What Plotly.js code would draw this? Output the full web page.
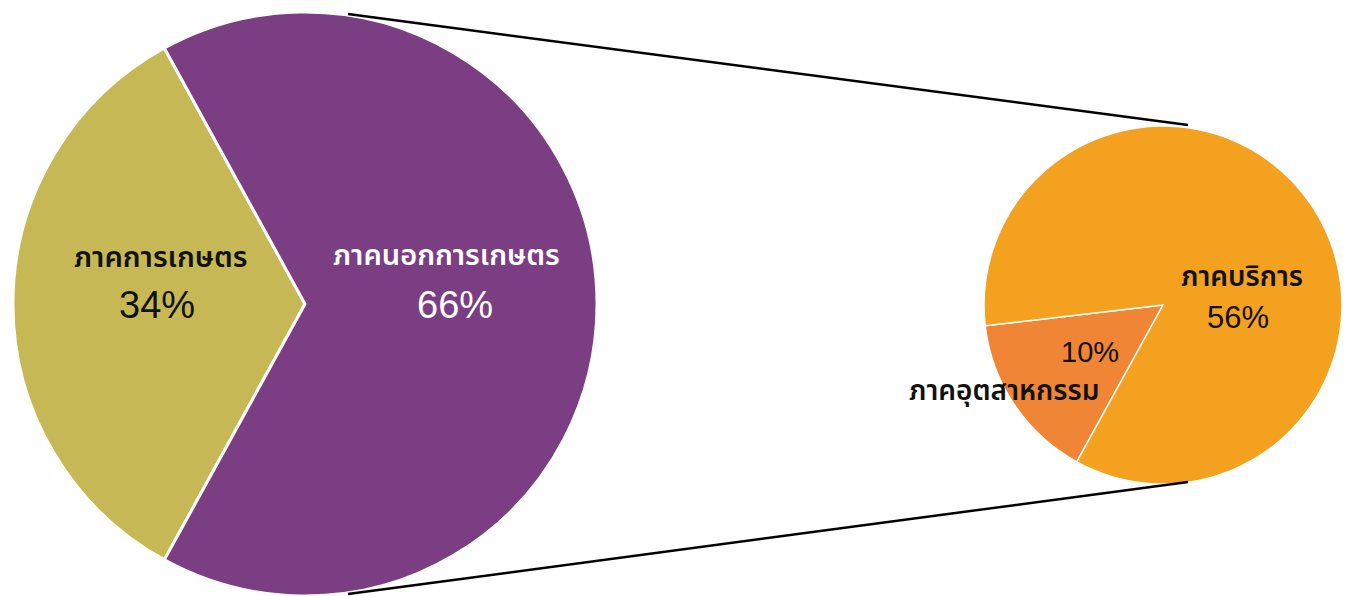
<!DOCTYPE html>
<html>
<head>
<meta charset="utf-8">
<script src="https://cdn.plot.ly/plotly-3.0.1.min.js"></script>
<style>html,body{margin:0;padding:0;background:#fff;}#chart{width:1352px;height:596px;}</style>
</head>
<body>
<div id="chart"></div>
<script>
// Main pie: agriculture vs non-agriculture (%)
const mainLabels = ['ภาคการเกษตร', 'ภาคนอกการเกษตร'];
const mainValues = [34, 66];
const mainColors = ['#C6B955', '#7C3E82'];

// Breakdown of non-agriculture (% of total)
const subLabels = ['ภาคอุตสาหกรรม', 'ภาคบริการ'];
const subValues = [10, 56];
const subColors = ['#F08535', '#F4A11F'];

const W = 1352, H = 596;
const px = x => x / W;
const py = y => 1 - y / H;
const thaiFont = '"Noto Sans Thai", "Noto Sans", "DejaVu Sans", sans-serif';
const numFont = '"Liberation Sans", Arial, sans-serif';

const traces = [
  {
    type: 'pie', labels: mainLabels, values: mainValues,
    marker: {colors: mainColors, line: {color: '#ffffff', width: 3}},
    sort: false, direction: 'clockwise', rotation: 208.8,
    textinfo: 'none', hoverinfo: 'label+value',
    domain: {x: [px(11), px(599)], y: [0, 0.98]},
    showlegend: false
  },
  {
    type: 'pie', labels: subLabels, values: subValues,
    marker: {colors: subColors, line: {color: '#ffffff', width: 1.5}},
    sort: false, direction: 'clockwise', rotation: 208.8,
    textinfo: 'none', hoverinfo: 'label+value',
    domain: {x: [px(984), px(1342)], y: [py(484), py(126)]},
    showlegend: false
  }
];

// label placements (pixel positions in the picture)
const labelPos = [
  {t: mainLabels[0], x: 161, y: 258, c: '#111', s: 29, f: thaiFont, w: 600},
  {t: mainValues[0] + '%', x: 157, y: 305, c: '#111', s: 38, f: numFont, w: 'normal'},
  {t: mainLabels[1], x: 446, y: 256, c: '#fff', s: 29, f: thaiFont, w: 600},
  {t: mainValues[1] + '%', x: 455, y: 305, c: '#fff', s: 38, f: numFont, w: 'normal'},
  {t: subLabels[1], x: 1242, y: 277, c: '#111', s: 28, f: thaiFont, w: 600},
  {t: subValues[1] + '%', x: 1238, y: 318, c: '#111', s: 31, f: numFont, w: 'normal'},
  {t: subValues[0] + '%', x: 1090, y: 352, c: '#111', s: 29, f: numFont, w: 'normal'},
  {t: subLabels[0], x: 1004, y: 391, c: '#111', s: 28, f: thaiFont, w: 600}
];

const annotations = labelPos.map(a => ({
  text: a.t, x: px(a.x), y: py(a.y), xref: 'paper', yref: 'paper',
  xanchor: 'center', yanchor: 'middle', showarrow: false,
  font: {family: a.f, size: a.s, color: a.c, weight: a.w}
}));

const shapes = [
  {type: 'line', xref: 'paper', yref: 'paper', x0: px(348), y0: py(14), x1: px(1188), y1: py(125), line: {color: '#000', width: 2.5}},
  {type: 'line', xref: 'paper', yref: 'paper', x0: px(348), y0: py(594), x1: px(1188), y1: py(482), line: {color: '#000', width: 2.5}}
];

const layout = {
  width: W, height: H,
  margin: {l: 0, r: 0, t: 0, b: 0},
  paper_bgcolor: '#ffffff', plot_bgcolor: '#ffffff',
  annotations: annotations, shapes: shapes,
  showlegend: false
};

Plotly.newPlot('chart', traces, layout, {displayModeBar: false, staticPlot: true});
</script>
</body>
</html>
